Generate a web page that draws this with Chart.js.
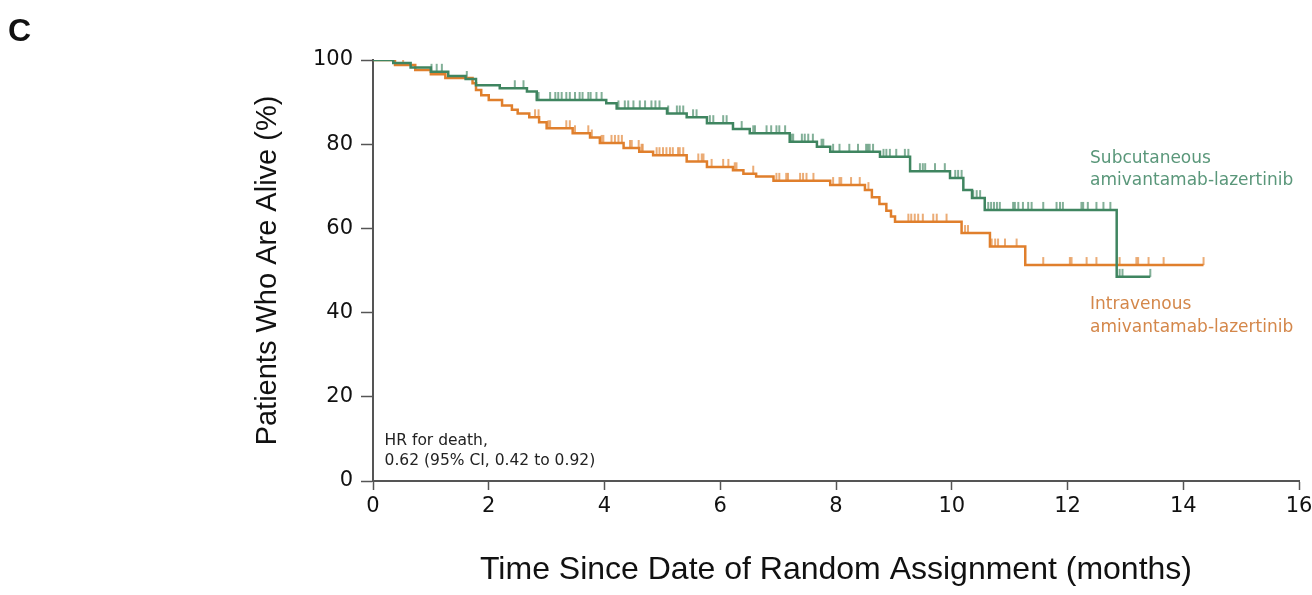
<!DOCTYPE html>
<html lang="en">
<head>
<meta charset="UTF-8">
<title>Overall survival</title>
<script src="https://cdn.jsdelivr.net/npm/chart.js"></script>
<style>
    body { margin: 0; background: #ffffff; overflow: hidden; }
    #wrap { width: 1312px; height: 595px; position: relative; }
</style>
</head>
<body>
<div id="wrap"><canvas id="km"></canvas></div>
<script>
// Kaplan-Meier steps: time the value starts (months), survival (%)
const scTimes  = [0, 0.35, 0.65, 1.0, 1.3, 1.6, 1.78, 2.19, 2.66, 2.83, 4.03, 4.21, 5.08, 5.42, 5.77, 6.22, 6.51, 7.2, 7.67, 7.9, 8.76, 9.28, 9.97, 10.2, 10.35, 10.57, 12.85, 13.43];
const scValues = [100, 99.3, 98.2, 97.2, 96.2, 95.5, 94.0, 93.3, 92.5, 90.5, 89.7, 88.5, 87.3, 86.4, 85.0, 83.6, 82.6, 80.6, 79.4, 78.2, 77.0, 73.6, 72.0, 69.1, 67.2, 64.4, 48.5, 48.5];

const ivTimes  = [0, 0.38, 0.73, 1.0, 1.25, 1.72, 1.78, 1.87, 2.0, 2.23, 2.4, 2.5, 2.7, 2.87, 3.0, 3.45, 3.75, 3.92, 4.33, 4.6, 4.84, 5.42, 5.77, 6.22, 6.4, 6.62, 6.92, 7.9, 8.5, 8.62, 8.75, 8.87, 8.95, 9.02, 10.17, 10.66, 11.27, 14.35];
const ivValues = [100, 98.8, 97.6, 96.6, 95.7, 94.5, 92.9, 91.6, 90.5, 89.2, 88.2, 87.3, 86.4, 85.2, 83.8, 82.6, 81.6, 80.3, 79.1, 78.2, 77.4, 75.9, 74.6, 73.8, 73.0, 72.3, 71.3, 70.3, 69.1, 67.4, 65.8, 64.2, 62.8, 61.6, 58.9, 55.7, 51.3, 51.3];

// censored observations (months)
const scCensor = [1.01, 1.1, 1.19, 1.62, 2.45, 2.6, 2.83, 2.86, 3.06, 3.15, 3.2, 3.26, 3.34, 3.4, 3.49, 3.57, 3.62, 3.72, 3.76, 3.86, 3.95,
    4.24, 4.35, 4.41, 4.5, 4.61, 4.7, 4.81, 4.88, 4.95, 5.1, 5.25, 5.3, 5.36, 5.53, 5.59, 5.82, 5.88, 6.05, 6.11, 6.37, 6.57, 6.6,
    6.8, 6.88, 6.97, 7.02, 7.12, 7.23, 7.26, 7.41, 7.46, 7.52, 7.6, 7.75, 7.78, 7.95, 8.06, 8.23, 8.38, 8.52, 8.55, 8.58, 8.64,
    8.82, 8.87, 8.93, 9.04, 9.19, 9.25, 9.45, 9.5, 9.54, 9.71, 9.88, 10.06, 10.11, 10.17, 10.37, 10.43, 10.49, 10.63, 10.68,
    10.73, 10.78, 10.83, 11.06, 11.09, 11.15, 11.23, 11.32, 11.38, 11.58, 11.81, 11.87, 11.92, 12.24, 12.27, 12.35, 12.5,
    12.62, 12.74, 12.9, 12.95, 13.43];
const ivCensor = [0.52, 2.8, 2.86, 3.03, 3.06, 3.34, 3.4, 3.49, 3.72, 3.78, 3.95, 3.98, 4.12, 4.18, 4.24, 4.3, 4.44, 4.47, 4.59,
    4.64, 4.66, 4.9, 4.95, 5.01, 5.07, 5.13, 5.18, 5.27, 5.3, 5.36, 5.62, 5.68, 5.71, 5.85, 6.05, 6.14, 6.25, 6.28, 6.57, 6.97,
    7.02, 7.14, 7.17, 7.38, 7.43, 7.49, 7.61, 7.95, 8.06, 8.09, 8.26, 8.41, 8.56, 9.25, 9.3, 9.36, 9.42, 9.5, 9.68, 9.74, 9.91,
    10.23, 10.28, 10.69, 10.75, 10.8, 10.92, 11.12, 11.58, 12.04, 12.07, 12.33, 12.5, 12.9, 13.19, 13.22, 13.4, 13.66, 14.35];

const xTicks = [0, 2, 4, 6, 8, 10, 12, 14, 16];
const yTicks = [0, 20, 40, 60, 80, 100];

const scColor = '#3f8560';
const ivColor = '#e07f2c';

// survival value in effect at time t (last step at or before t)
function valueAt(times, values, t) {
    let v = values[0];
    for (let i = 0; i < times.length; i++) {
        if (times[i] <= t) v = values[i];
    }
    return v;
}

// small upward tick used as censor mark
function censorMark(color) {
    const c = document.createElement('canvas');
    c.width = 4;
    c.height = 18;
    const g = c.getContext('2d');
    g.strokeStyle = color;
    g.lineWidth = 1.3;
    g.beginPath();
    g.moveTo(2, 1);
    g.lineTo(2, 9);
    g.stroke();
    return c;
}

const steps = (t, v) => t.map((x, i) => ({ x: x, y: v[i] }));
const marks = (c, t, v) => c.map(x => ({ x: x, y: valueAt(t, v, x) }));

// panel letter, HR note and curve labels
const notes = {
    id: 'notes',
    afterDraw(chart) {
        const ctx = chart.ctx;
        const xs = chart.scales.x, ys = chart.scales.y;
        ctx.save();
        ctx.textBaseline = 'middle';
        ctx.fillStyle = '#111';
        ctx.font = 'bold 32px "Liberation Sans", Arial, sans-serif';
        ctx.fillText('C', 8, 32);

        ctx.font = '15.5px "DejaVu Sans", sans-serif';
        ctx.fillStyle = '#222';
        ctx.fillText('HR for death,', xs.getPixelForValue(0.2), ys.getPixelForValue(9.5));
        ctx.fillText('0.62 (95% CI, 0.42 to 0.92)', xs.getPixelForValue(0.2), ys.getPixelForValue(4.7));

        ctx.font = '17px "DejaVu Sans", sans-serif';
        ctx.fillStyle = '#5a977a';
        ctx.fillText('Subcutaneous', xs.getPixelForValue(12.39), ys.getPixelForValue(76.7));
        ctx.fillText('amivantamab-lazertinib', xs.getPixelForValue(12.39), ys.getPixelForValue(71.4));
        ctx.fillStyle = '#d4874a';
        ctx.fillText('Intravenous', xs.getPixelForValue(12.39), ys.getPixelForValue(41.8));
        ctx.fillText('amivantamab-lazertinib', xs.getPixelForValue(12.39), ys.getPixelForValue(36.5));
        ctx.restore();
    }
};

const axisFont = { family: '"DejaVu Sans", sans-serif', size: 21 };

new Chart(document.getElementById('km'), {
    type: 'line',
    data: {
        datasets: [
            { data: steps(scTimes, scValues), borderColor: scColor, borderWidth: 2.5, stepped: 'before', pointRadius: 0, fill: false },
            { data: steps(ivTimes, ivValues), borderColor: ivColor, borderWidth: 2.5, stepped: 'before', pointRadius: 0, fill: false },
            { data: marks(scCensor, scTimes, scValues), showLine: false, pointStyle: censorMark(scColor) },
            { data: marks(ivCensor, ivTimes, ivValues), showLine: false, pointStyle: censorMark(ivColor) }
        ]
    },
    options: {
        responsive: true,
        maintainAspectRatio: false,
        animation: false,
        layout: { padding: { left: 243, top: 60, right: 13, bottom: 0 } },
        plugins: { legend: { display: false }, tooltip: { enabled: false } },
        scales: {
            x: {
                type: 'linear',
                min: 0, max: 16,
                afterBuildTicks: s => { s.ticks = xTicks.map(v => ({ value: v })); },
                afterFit: s => { s.height = 114; s.paddingLeft = 0; s.paddingRight = 0; },
                grid: { drawOnChartArea: false, drawTicks: true, tickLength: 9, tickColor: '#555', tickWidth: 1.5 },
                border: { color: '#555', width: 2 },
                ticks: { color: '#111', font: axisFont, padding: 4, maxRotation: 0 },
                title: { display: true, text: 'Time Since Date of Random Assignment (months)', color: '#111',
                         font: { family: '"Liberation Sans", Arial, sans-serif', size: 32 }, padding: { top: 0, bottom: 6 } }
            },
            y: {
                min: 0, max: 100,
                afterBuildTicks: s => { s.ticks = yTicks.map(v => ({ value: v })); },
                afterFit: s => { s.width = 130; s.paddingTop = 0; s.paddingBottom = 0; },
                grid: { drawOnChartArea: false, drawTicks: true, tickLength: 12, tickColor: '#555', tickWidth: 1.5 },
                border: { color: '#555', width: 2 },
                ticks: { color: '#111', font: axisFont, padding: 8 },
                title: { display: true, text: 'Patients Who Are Alive (%)', color: '#111',
                         font: { family: '"Liberation Sans", Arial, sans-serif', size: 29 }, padding: { top: 8, bottom: 0 } }
            }
        }
    },
    plugins: [notes]
});
</script>
</body>
</html>
